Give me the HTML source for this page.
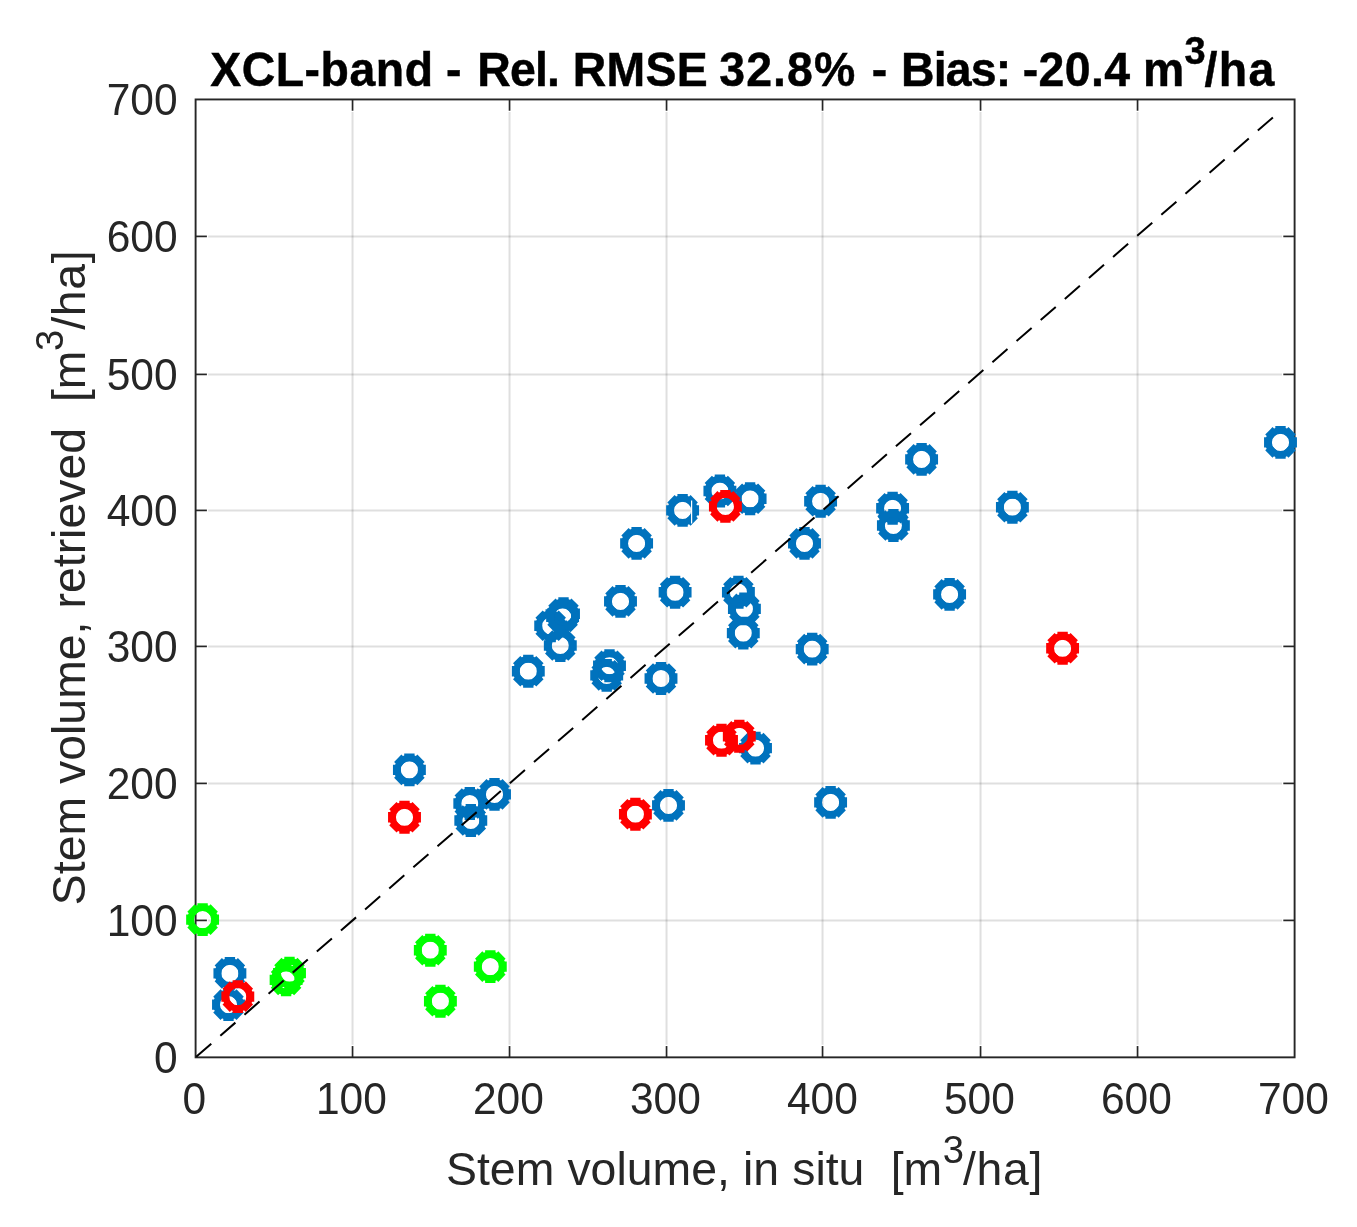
<!DOCTYPE html>
<html lang="en"><head><meta charset="utf-8"><title>XCL-band stem volume scatter plot</title>
<style>html,body{margin:0;padding:0;background:#fff;}body{width:1357px;height:1227px;overflow:hidden;}svg{display:block;}text{font-family:"Liberation Sans", "Helvetica", "Arial", sans-serif;}</style>
</head><body>
<svg width="1357" height="1227" viewBox="0 0 1357 1227">
<rect x="0" y="0" width="1357" height="1227" fill="#ffffff"/>
<defs><g id="mk" fill="none" stroke="currentColor"><circle cx="0" cy="0" r="11.9" stroke-width="6.6"/><path d="M12.50 5.18L5.18 12.50M5.18 12.50L-5.18 12.50M-5.18 12.50L-12.50 5.18M-12.50 5.18L-12.50 -5.18M-12.50 -5.18L-5.18 -12.50M-5.18 -12.50L5.18 -12.50M5.18 -12.50L12.50 -5.18M12.50 -5.18L12.50 5.18" stroke-width="7.9" stroke-linecap="butt"/></g></defs>
<g stroke="#262626" stroke-opacity="0.15" stroke-width="2" fill="none">
<line x1="352.55" y1="112.05" x2="352.55" y2="1044.75"/>
<line x1="208.20" y1="920.40" x2="1282.00" y2="920.40"/>
<line x1="509.55" y1="112.05" x2="509.55" y2="1044.75"/>
<line x1="208.20" y1="783.40" x2="1282.00" y2="783.40"/>
<line x1="666.55" y1="112.05" x2="666.55" y2="1044.75"/>
<line x1="208.20" y1="646.40" x2="1282.00" y2="646.40"/>
<line x1="822.55" y1="112.05" x2="822.55" y2="1044.75"/>
<line x1="208.20" y1="510.40" x2="1282.00" y2="510.40"/>
<line x1="980.55" y1="112.05" x2="980.55" y2="1044.75"/>
<line x1="208.20" y1="374.40" x2="1282.00" y2="374.40"/>
<line x1="1137.55" y1="112.05" x2="1137.55" y2="1044.75"/>
<line x1="208.20" y1="236.40" x2="1282.00" y2="236.40"/>
</g>
<rect x="195.60" y="99.45" width="1099.00" height="957.90" stroke="#262626" stroke-width="1.90" fill="none"/>
<g stroke="#262626" stroke-width="1.7" fill="none" stroke-linecap="butt">
<line x1="352.55" y1="1057.35" x2="352.55" y2="1046.05"/>
<line x1="352.55" y1="99.45" x2="352.55" y2="110.75"/>
<line x1="195.60" y1="920.40" x2="206.90" y2="920.40"/>
<line x1="1294.60" y1="920.40" x2="1283.30" y2="920.40"/>
<line x1="509.55" y1="1057.35" x2="509.55" y2="1046.05"/>
<line x1="509.55" y1="99.45" x2="509.55" y2="110.75"/>
<line x1="195.60" y1="783.40" x2="206.90" y2="783.40"/>
<line x1="1294.60" y1="783.40" x2="1283.30" y2="783.40"/>
<line x1="666.55" y1="1057.35" x2="666.55" y2="1046.05"/>
<line x1="666.55" y1="99.45" x2="666.55" y2="110.75"/>
<line x1="195.60" y1="646.40" x2="206.90" y2="646.40"/>
<line x1="1294.60" y1="646.40" x2="1283.30" y2="646.40"/>
<line x1="822.55" y1="1057.35" x2="822.55" y2="1046.05"/>
<line x1="822.55" y1="99.45" x2="822.55" y2="110.75"/>
<line x1="195.60" y1="510.40" x2="206.90" y2="510.40"/>
<line x1="1294.60" y1="510.40" x2="1283.30" y2="510.40"/>
<line x1="980.55" y1="1057.35" x2="980.55" y2="1046.05"/>
<line x1="980.55" y1="99.45" x2="980.55" y2="110.75"/>
<line x1="195.60" y1="374.40" x2="206.90" y2="374.40"/>
<line x1="1294.60" y1="374.40" x2="1283.30" y2="374.40"/>
<line x1="1137.55" y1="1057.35" x2="1137.55" y2="1046.05"/>
<line x1="1137.55" y1="99.45" x2="1137.55" y2="110.75"/>
<line x1="195.60" y1="236.40" x2="206.90" y2="236.40"/>
<line x1="1294.60" y1="236.40" x2="1283.30" y2="236.40"/>
</g>
<g color="#0072BD">
<use href="#mk" x="229.9" y="973.4"/>
<use href="#mk" x="228.5" y="1004.6"/>
<use href="#mk" x="409.4" y="769.9"/>
<use href="#mk" x="469.8" y="803.5"/>
<use href="#mk" x="470.8" y="820.5"/>
<use href="#mk" x="494.5" y="794.4"/>
<use href="#mk" x="528.3" y="671.2"/>
<use href="#mk" x="550.7" y="625.8"/>
<use href="#mk" x="563.5" y="613.7"/>
<use href="#mk" x="562.6" y="616.9"/>
<use href="#mk" x="560.3" y="645.5"/>
<use href="#mk" x="609.5" y="665.7"/>
<use href="#mk" x="606.7" y="675.4"/>
<use href="#mk" x="620.5" y="601.4"/>
<use href="#mk" x="636.6" y="543.4"/>
<use href="#mk" x="661.0" y="678.5"/>
<use href="#mk" x="668.5" y="805.4"/>
<use href="#mk" x="675.1" y="592.3"/>
<use href="#mk" x="682.6" y="510.4"/>
<use href="#mk" x="719.9" y="491.0"/>
<use href="#mk" x="750.1" y="498.8"/>
<use href="#mk" x="738.4" y="592.2"/>
<use href="#mk" x="744.4" y="608.9"/>
<use href="#mk" x="743.3" y="633.1"/>
<use href="#mk" x="755.5" y="748.1"/>
<use href="#mk" x="804.5" y="543.4"/>
<use href="#mk" x="812.2" y="649.1"/>
<use href="#mk" x="820.6" y="501.3"/>
<use href="#mk" x="830.6" y="802.4"/>
<use href="#mk" x="892.6" y="508.3"/>
<use href="#mk" x="893.4" y="525.5"/>
<use href="#mk" x="921.6" y="459.4"/>
<use href="#mk" x="949.6" y="594.4"/>
<use href="#mk" x="1012.4" y="507.2"/>
<use href="#mk" x="1280.5" y="442.4"/>
</g>
<g color="#FF0000">
<use href="#mk" x="237.8" y="996.6"/>
<use href="#mk" x="404.5" y="817.3"/>
<use href="#mk" x="635.4" y="814.2"/>
<use href="#mk" x="721.5" y="740.2"/>
<use href="#mk" x="739.3" y="736.3"/>
<use href="#mk" x="725.4" y="506.4"/>
<use href="#mk" x="1062.6" y="648.3"/>
</g>
<g color="#00FF00">
<use href="#mk" x="202.6" y="919.6"/>
<use href="#mk" x="286.1" y="979.9"/>
<use href="#mk" x="289.5" y="973.1"/>
<use href="#mk" x="430.3" y="950.2"/>
<use href="#mk" x="490.3" y="966.6"/>
<use href="#mk" x="440.4" y="1001.2"/>
</g>
<line x1="691.6" y1="500.5" x2="691.6" y2="523.5" stroke="#fff" stroke-width="1.2"/>
<line x1="195.60" y1="1057.35" x2="1275.76" y2="114.97" stroke="#000" stroke-width="2" stroke-dasharray="20 12.02" stroke-dashoffset="-0.8"/>
<g fill="#262626" font-size="42">
<text transform="translate(194.35 1114.30) scale(1.012 1.04)" text-anchor="middle">0</text>
<text transform="translate(351.35 1114.30) scale(1.012 1.04)" text-anchor="middle">100</text>
<text transform="translate(508.35 1114.30) scale(1.012 1.04)" text-anchor="middle">200</text>
<text transform="translate(665.35 1114.30) scale(1.012 1.04)" text-anchor="middle">300</text>
<text transform="translate(822.35 1114.30) scale(1.012 1.04)" text-anchor="middle">400</text>
<text transform="translate(979.35 1114.30) scale(1.012 1.04)" text-anchor="middle">500</text>
<text transform="translate(1136.35 1114.30) scale(1.012 1.04)" text-anchor="middle">600</text>
<text transform="translate(1293.35 1114.30) scale(1.012 1.04)" text-anchor="middle">700</text>
<text transform="translate(177.60 1072.55) scale(1.012 1.04)" text-anchor="end">0</text>
<text transform="translate(177.60 935.60) scale(1.012 1.04)" text-anchor="end">100</text>
<text transform="translate(177.60 798.60) scale(1.012 1.04)" text-anchor="end">200</text>
<text transform="translate(177.60 661.60) scale(1.012 1.04)" text-anchor="end">300</text>
<text transform="translate(177.60 525.60) scale(1.012 1.04)" text-anchor="end">400</text>
<text transform="translate(177.60 389.60) scale(1.012 1.04)" text-anchor="end">500</text>
<text transform="translate(177.60 251.60) scale(1.012 1.04)" text-anchor="end">600</text>
<text transform="translate(177.60 114.65) scale(1.012 1.04)" text-anchor="end">700</text>
</g>
<g fill="#262626" font-size="46.4">
<text y="1184.90" xml:space="preserve"><tspan x="446.00" word-spacing="0.25">Stem volume, in situ  [m</tspan><tspan x="942.70" dy="-22.30" font-size="38.2">3</tspan><tspan x="962.90" dy="22.30" letter-spacing="0.7">/ha]</tspan></text>
<text transform="translate(85.30 905.20) rotate(-90)" y="0" xml:space="preserve"><tspan x="0" word-spacing="0.1">Stem volume, retrieved  [m</tspan><tspan x="554.20" dy="-22.30" font-size="38.2">3</tspan><tspan x="575.40" dy="22.30" letter-spacing="0.7">/ha]</tspan></text>
</g>
<text y="85.70" fill="#000" stroke="#000" stroke-width="0.45" font-size="46.4" font-weight="bold" xml:space="preserve" transform="translate(0 85.70) scale(1 1.04) translate(0 -85.70)"><tspan x="210.16" letter-spacing="0.549">XCL-band</tspan> <tspan x="445.90" letter-spacing="0">-</tspan> <tspan x="477.27" letter-spacing="-0.796">Rel.</tspan> <tspan x="572.77" letter-spacing="0.335">RMSE</tspan> <tspan x="719.27" letter-spacing="1.125">32.8%</tspan> <tspan x="871.75" letter-spacing="0">-</tspan> <tspan x="900.97" letter-spacing="-0.813">Bias:</tspan> <tspan x="1022.68" letter-spacing="0.395">-20.4</tspan> <tspan x="1143.01" letter-spacing="0">m</tspan><tspan x="1184.40" dy="-20.50" font-size="38">3</tspan><tspan x="1204.54" dy="20.50" letter-spacing="1.409">/ha</tspan></text>
</svg></body></html>
